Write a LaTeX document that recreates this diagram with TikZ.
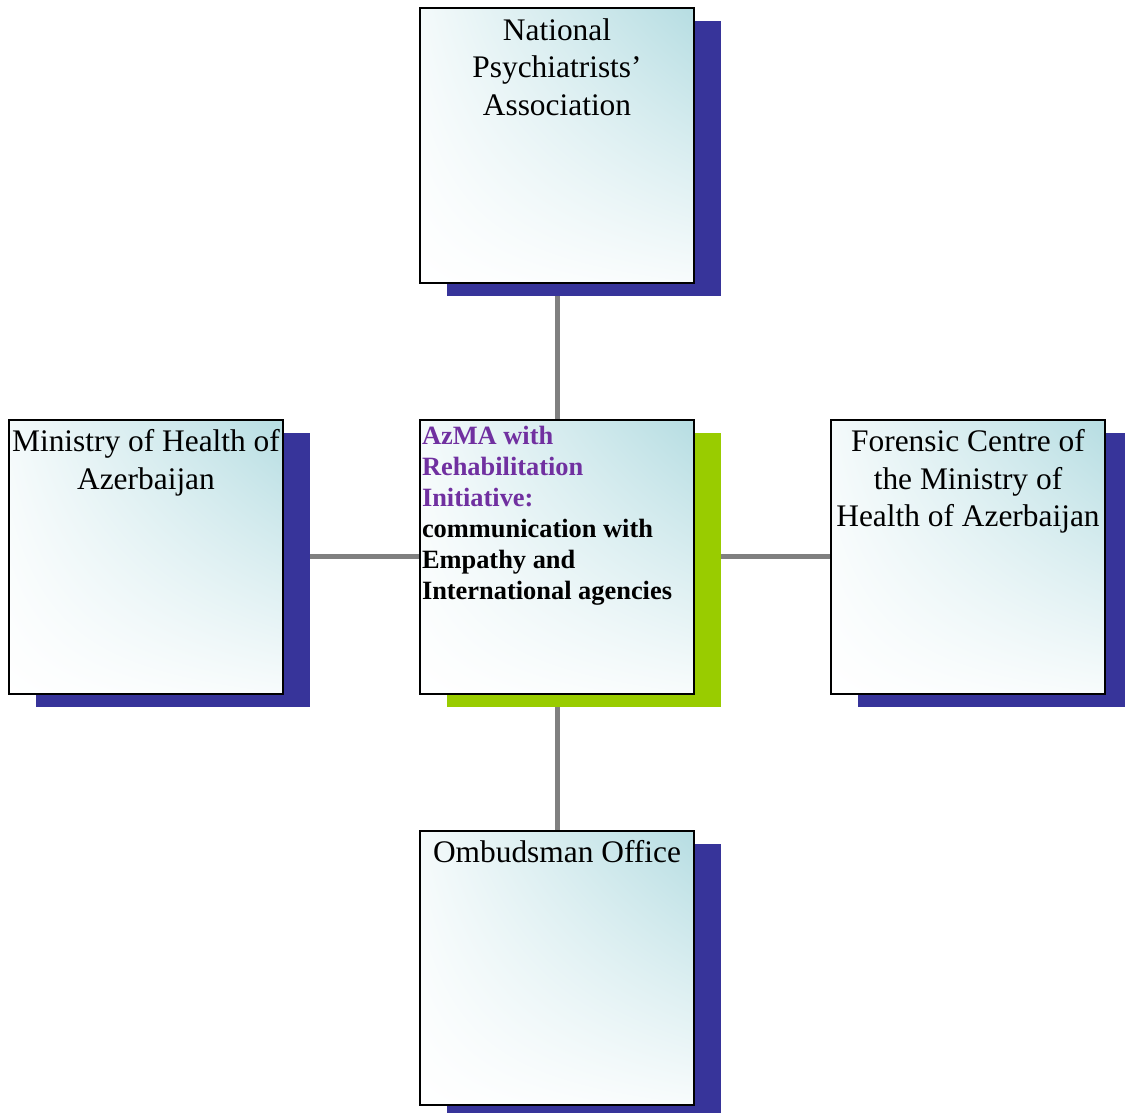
\documentclass[tikz,border=0pt]{standalone}
\usepackage{fontspec}
\setmainfont{Liberation Serif}
\usetikzlibrary{positioning,shadows,shadings,backgrounds}
\definecolor{shadowblue}{RGB}{55,52,154}
\definecolor{shadowgreen}{RGB}{153,204,0}
\definecolor{paleteal}{RGB}{182,221,226}
\definecolor{initpurple}{RGB}{112,48,160}
\definecolor{linkgray}{RGB}{128,128,128}
\newcommand{\unittext}[1]{\parbox[t][137pt][t]{137pt}{\centering\fontsize{15.7}{18.75}\selectfont\rule{0pt}{16pt}#1}}
\newcommand{\hubtext}[1]{\parbox[t][137pt][t]{137pt}{\raggedright\leftskip=1pt\fontsize{13.2}{15.5}\selectfont\bfseries\rule{0pt}{12.5pt}#1}}

\begin{document}
\begin{tikzpicture}[node distance=67.5pt,
    box/.style={draw, line width=1pt, inner sep=0pt,
        upper right=paleteal, upper left=paleteal!15, lower left=white, lower right=paleteal!10},
    unit/.style={box, drop shadow={shadow xshift=13.5pt, shadow yshift=-6.5pt, fill=shadowblue, opacity=1}},
    hubbox/.style={box, drop shadow={shadow xshift=13.5pt, shadow yshift=-6.5pt, fill=shadowgreen, opacity=1}},
    link/.style={draw=linkgray, line width=2.5pt}]

\useasboundingbox (0,0) rectangle (562.5pt,-556.5pt);

\node [hubbox] (azma) at (278.5pt,-278.25pt) {\hubtext{\textcolor{initpurple}{AzMA with\\Rehabilitation\\Initiative:}\\communication with\\Empathy and\\International agencies}};
\node [unit, above=of azma] (npa) {\unittext{National\\Psychiatrists'\\Association}};
\node [unit, left=of azma] (moh) {\unittext{Ministry of Health of\\Azerbaijan}};
\node [unit, right=of azma] (forensic) {\unittext{Forensic Centre of\\the Ministry of\\Health of Azerbaijan}};
\node [unit, below=of azma] (ombud) {\unittext{Ombudsman Office}};

% links behind the boxes
\begin{scope}[on background layer]
\draw [link] (azma) -- (npa);
\draw [link] (azma) -- (moh);
\draw [link] (azma) -- (forensic);
\draw [link] (azma) -- (ombud);
\end{scope}

\end{tikzpicture}
\end{document}
